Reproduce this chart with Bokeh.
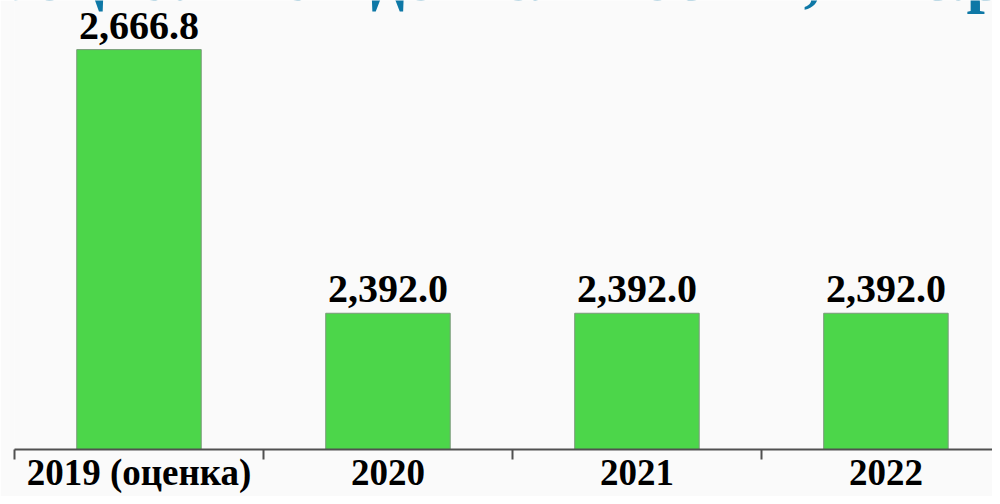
from bokeh.plotting import figure
from bokeh.models import Range1d, FixedTicker
from bokeh.core.properties import value
from bokeh.embed import file_html
from bokeh.resources import INLINE

categories = ["2019 (оценка)", "2020", "2021", "2022"]
values = [2666.8, 2392.0, 2392.0, 2392.0]
value_labels = ["2,666.8", "2,392.0", "2,392.0", "2,392.0"]
title_text = "«Социальная деятельность», тыс.руб."

centers = [i + 0.5 for i in range(len(categories))]
bounds = list(range(len(categories) + 1))
y_start, y_end = 2250.0, 2718.0

p = figure(width=992, height=496, output_backend="svg", toolbar_location=None,
           x_range=Range1d(0, 3.928), y_range=Range1d(y_start, y_end),
           min_border_left=14, min_border_right=0, min_border_top=0, min_border_bottom=47)
p.background_fill_color = "#fafafa"
p.border_fill_color = "#fafafa"
p.outline_line_color = None
p.grid.visible = False
p.yaxis.visible = False

p.vbar(x=centers, top=values, bottom=y_start, width=0.5,
       fill_color="#4cd64a", line_color="#7a9a7a", line_width=1)

p.text(x=centers, y=values, text=value_labels, y_offset=-24,
       text_align="center", text_baseline="alphabetic",
       text_font=value("Liberation Serif"), text_font_style="bold",
       text_font_size="40px", text_color="#000000")

ax = p.xaxis[0]
ax.ticker = FixedTicker(ticks=centers, minor_ticks=bounds)
ax.major_label_overrides = {c: lab for c, lab in zip(centers, categories)}
ax.major_tick_out = 0
ax.major_tick_in = 0
ax.minor_tick_out = 10
ax.minor_tick_in = 0
ax.minor_tick_line_color = "#505050"
ax.minor_tick_line_width = 2
ax.axis_line_color = "#505050"
ax.axis_line_width = 2
ax.major_label_standoff = -8
ax.major_label_text_font = "Liberation Serif"
ax.major_label_text_font_style = "bold"
ax.major_label_text_font_size = "37px"
ax.major_label_text_color = "#000000"

# cut-off heading at the top edge
p.text(x=[0], y=[y_end], text=[title_text], x_offset=-62, y_offset=-23,
       text_align="left", text_baseline="alphabetic",
       text_font=value("Liberation Serif"), text_font_style="bold",
       text_font_size="66px", text_color="#0e78a6")

open("out.html", "w").write(file_html(p, INLINE))
